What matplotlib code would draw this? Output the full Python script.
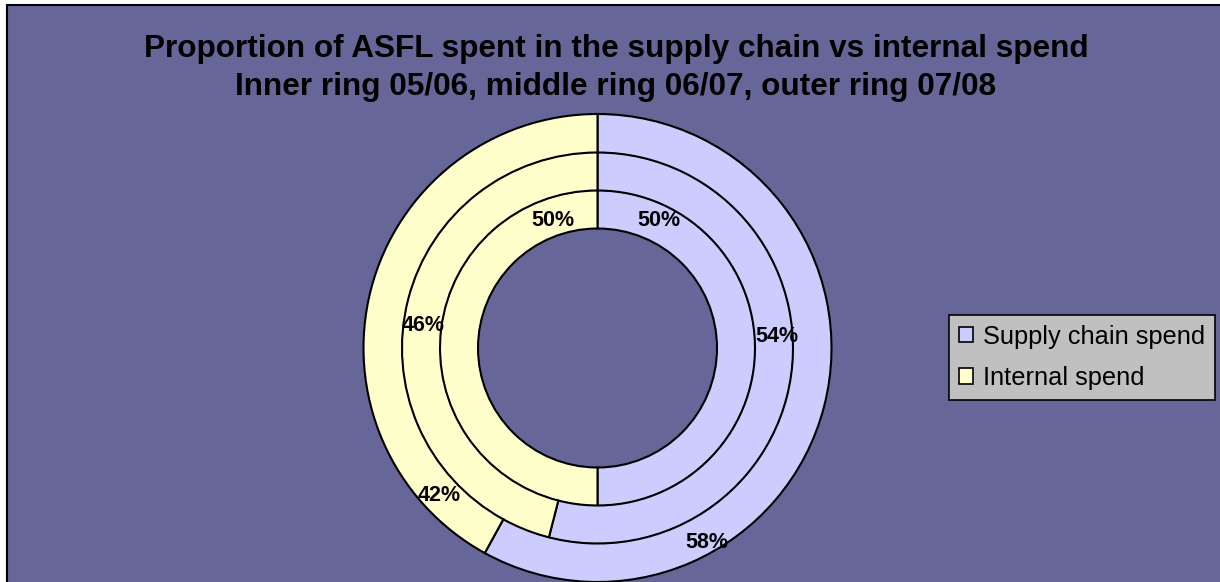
import matplotlib
matplotlib.use("Agg")
import matplotlib.pyplot as plt
from matplotlib.patches import Patch, Rectangle
import numpy as np

# ---- data ----
categories = ["Supply chain spend", "Internal spend"]
ring_years = ["05/06", "06/07", "07/08"]          # inner, middle, outer
supply_pct = [50, 54, 58]
internal_pct = [50, 46, 42]
title_lines = ["Proportion of ASFL spent in the supply chain vs internal spend",
               "Inner ring 05/06, middle ring 06/07, outer ring 07/08"]

# ---- style ----
BG = "#666699"
COLORS = ["#CCCCFF", "#FFFFCC"]
FONT = "Liberation Sans"
W, H = 1220, 582
DPI = 100

fig = plt.figure(figsize=(W / DPI, H / DPI), dpi=DPI, facecolor="white")
# chart area with black border (extends past right/bottom edges)
fig.patches.append(Rectangle((7 / W, -0.05), 1.1, (H - 5) / H + 0.05,
                             transform=fig.transFigure, facecolor=BG,
                             edgecolor="black", linewidth=1.5, zorder=-10))

ax = fig.add_axes([0, 0, 1, 1])
ax.set_zorder(1)
ax.patch.set_alpha(0)

cx, cy = 597.5, H - 348
radii = [158, 196, 234]
width = 38.5

for i in range(3):
    ax.pie([supply_pct[i], internal_pct[i]], radius=radii[i], center=(cx, cy),
           startangle=90, counterclock=False, colors=COLORS,
           wedgeprops=dict(width=width, edgecolor="black", linewidth=1.5),
           frame=True)
ax.set_xlim(0, W)
ax.set_ylim(0, H)
ax.set_aspect("equal")
ax.axis("off")

# label layout (polar offsets from centre: radius, clockwise angle from top)
label_layout = {
    (0, 0): (142, 25.7), (0, 1): (135.5, -19.2),
    (1, 0): (180, 86.2), (1, 1): (176, -82.5),
    (2, 0): (223.6, 150.7), (2, 1): (217, -133.0),
}
vals = [supply_pct, internal_pct]
for (ring, cat), (r, ang) in label_layout.items():
    a = np.deg2rad(ang)
    x = cx + r * np.sin(a)
    y = cy + r * np.cos(a)
    ax.text(x, y, f"{vals[cat][ring]}%", ha="center", va="center",
            fontsize=15.5, fontweight="bold", family=FONT, color="black")

# title
fig.text(616 / W, 1 - 57.5 / H, title_lines[0], ha="center", va="baseline",
         fontsize=22.7, fontweight="bold", family=FONT, color="black")
fig.text(616 / W, 1 - 95 / H, title_lines[1], ha="center", va="baseline",
         fontsize=22.7, fontweight="bold", family=FONT, color="black")

handles = [Patch(facecolor=c, edgecolor="black", linewidth=1.2) for c in COLORS]
leg = fig.legend(handles, categories, loc="upper left",
                 bbox_to_anchor=(949 / W, 1 - 315 / H),
                 prop=dict(family=FONT, size=18.3), frameon=True, fancybox=False,
                 facecolor="#C0C0C0", edgecolor="black", framealpha=1,
                 handlelength=0.55, handleheight=0.55, handletextpad=0.4,
                 labelspacing=0.68, borderpad=0.38, borderaxespad=0)
leg.get_frame().set_linewidth(1.2)
leg.set_zorder(5)

fig.savefig("out.png", dpi=DPI, facecolor="white")
